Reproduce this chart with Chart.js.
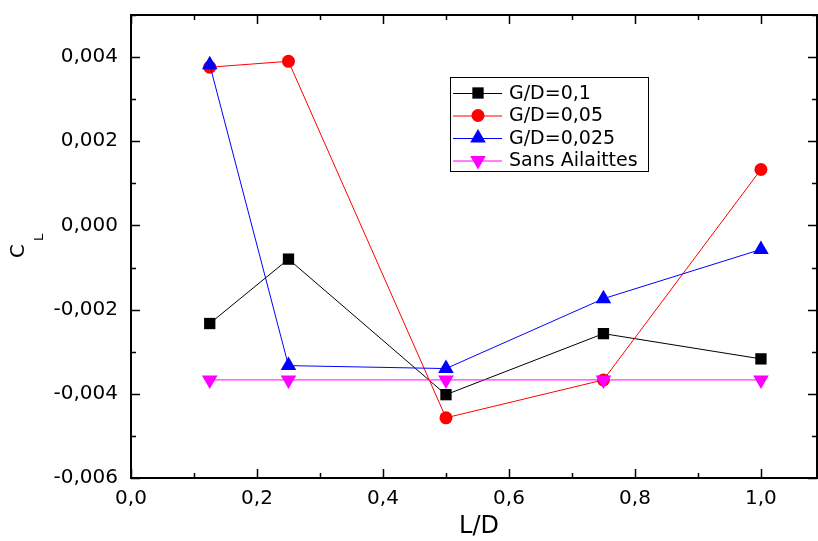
<!DOCTYPE html>
<html>
<head>
<meta charset="utf-8">
<script src="https://cdn.jsdelivr.net/npm/chart.js@4.4.1/dist/chart.umd.min.js"></script>
<style>
  html, body { margin: 0; padding: 0; background: #fff; }
  #wrap { width: 818px; height: 541px; }
</style>
</head>
<body>
<div id="wrap"><canvas id="chart" width="818" height="541"></canvas></div>
<script>
// L/D positions
const ldValues = [0.125, 0.25, 0.5, 0.75, 1.0];

// C_L for each configuration
const gd01 = [-0.00233, -0.0008, -0.00402, -0.00257, -0.00317];
const gd005 = [0.00376, 0.0039, -0.00457, -0.00367, 0.00133];
const gd0025 = [0.00382, -0.00333, -0.0034, -0.00174, -0.00057];
const sansAilettes = [-0.00367, -0.00367, -0.00367, -0.00367, -0.00367];

const seriesLabels = ['G/D=0,1', 'G/D=0,05', 'G/D=0,025', 'Sans Ailaittes'];

const xTicks = [0.0, 0.2, 0.4, 0.6, 0.8, 1.0];
const yTicks = [-0.006, -0.004, -0.002, 0.000, 0.002, 0.004];

const FONT = "'DejaVu Sans', 'Liberation Sans', Arial, sans-serif";

function pts(ys) {
  return ldValues.map((x, i) => ({ x: x, y: ys[i] }));
}

function noPad(scale) {
  scale.paddingLeft = 0;
  scale.paddingRight = 0;
  scale.paddingTop = 0;
  scale.paddingBottom = 0;
}

// frame, inward ticks, axis titles and legend
const framePlugin = {
  id: 'frame',
  afterDraw(chart) {
    const ctx = chart.ctx;
    const a = chart.chartArea;
    const xs = chart.scales.x, ys = chart.scales.y;
    ctx.save();
    ctx.strokeStyle = '#000';
    ctx.lineWidth = 2;
    ctx.strokeRect(a.left, a.top, a.right - a.left, a.bottom - a.top);

    ctx.lineWidth = 1.5;
    ctx.beginPath();
    for (let v = 0; v <= 1.08; v += 0.1) {
      const px = Math.round(xs.getPixelForValue(v)) + 0.5;
      const len = Math.round(v * 10) % 2 === 0 ? 9 : 5;
      ctx.moveTo(px, a.bottom); ctx.lineTo(px, a.bottom - len);
      ctx.moveTo(px, a.top); ctx.lineTo(px, a.top + len);
    }
    for (let i = -6; i <= 5; i++) {
      const py = Math.round(ys.getPixelForValue(i * 0.001)) + 0.5;
      const len = i % 2 === 0 ? 9 : 5;
      ctx.moveTo(a.left, py); ctx.lineTo(a.left + len, py);
      ctx.moveTo(a.right, py); ctx.lineTo(a.right - len, py);
    }
    ctx.stroke();

    // axis titles
    ctx.fillStyle = '#000';
    ctx.font = '24px ' + FONT;
    ctx.textAlign = 'center';
    ctx.textBaseline = 'middle';
    ctx.fillText('L/D', 479, 527);

    ctx.save();
    ctx.translate(0, 258);
    ctx.rotate(-Math.PI / 2);
    ctx.textAlign = 'left';
    ctx.textBaseline = 'alphabetic';
    ctx.font = '20px ' + FONT;
    ctx.fillText('C', 0, 24);
    ctx.font = '13px ' + FONT;
    ctx.fillText('L', 17, 43);
    ctx.restore();

    // legend
    const lx = 450, ly = 77, lw = 198, lh = 94;
    ctx.lineWidth = 1;
    ctx.strokeStyle = '#000';
    ctx.strokeRect(lx + 0.5, ly + 0.5, lw, lh);
    ctx.font = '19px ' + FONT;
    ctx.textAlign = 'left';
    ctx.textBaseline = 'middle';
    chart.data.datasets.forEach((ds, i) => {
      const ry = 93 + i * 22.5;
      ctx.strokeStyle = ds.borderColor;
      ctx.lineWidth = 1;
      ctx.beginPath();
      ctx.moveTo(453, ry + 0.5); ctx.lineTo(502, ry + 0.5);
      ctx.stroke();
      ctx.fillStyle = ds.pointBackgroundColor;
      Chart.helpers.drawPoint(ctx, {
        pointStyle: ds.pointStyle,
        rotation: ds.pointRotation || 0,
        radius: ds.pointRadius,
        borderWidth: 0
      }, 478, ry);
      ctx.fillStyle = '#000';
      ctx.fillText(ds.label, 509, ry + 1);
    });
    ctx.restore();
  }
};

const colors = ['#000000', '#ff0000', '#0000ff', '#ff00ff'];
const styles = ['rect', 'circle', 'triangle', 'triangle'];
const radii = [8, 6.5, 9, 9];
const rotations = [0, 0, 0, 180];
const series = [gd01, gd005, gd0025, sansAilettes];

new Chart(document.getElementById('chart'), {
  type: 'line',
  data: {
    datasets: series.map((s, i) => ({
      label: seriesLabels[i],
      data: pts(s),
      borderColor: colors[i],
      backgroundColor: colors[i],
      pointBackgroundColor: colors[i],
      pointBorderColor: colors[i],
      pointBorderWidth: 0,
      pointStyle: styles[i],
      pointRadius: radii[i],
      pointRotation: rotations[i],
      borderWidth: 1,
      tension: 0,
      order: 4 - i
    }))
  },
  options: {
    responsive: false,
    animation: false,
    devicePixelRatio: 1,
    layout: { autoPadding: false, padding: { top: 15, right: 1, left: 0, bottom: 0 } },
    plugins: {
      legend: { display: false },
      tooltip: { enabled: false }
    },
    scales: {
      x: {
        type: 'linear',
        min: 0,
        max: 1.089,
        grid: { display: false, drawTicks: false },
        border: { display: false },
        afterBuildTicks: (scale) => { scale.ticks = xTicks.map(v => ({ value: v })); },
        afterFit: (scale) => { scale.height = 63; noPad(scale); },
        ticks: {
          padding: 9,
          color: '#000',
          font: { family: FONT, size: 20 },
          maxRotation: 0,
          callback: (v) => v.toFixed(1).replace('.', ',')
        }
      },
      y: {
        type: 'linear',
        min: -0.006,
        max: 0.005,
        grid: { display: false, drawTicks: false },
        border: { display: false },
        afterBuildTicks: (scale) => { scale.ticks = yTicks.map(v => ({ value: v })); },
        afterFit: (scale) => { scale.width = 131; noPad(scale); },
        ticks: {
          padding: 13,
          color: '#000',
          font: { family: FONT, size: 20 },
          callback: (v) => v.toFixed(3).replace('.', ',').replace('-0,000', '0,000')
        }
      }
    }
  },
  plugins: [framePlugin]
});
</script>
</body>
</html>
